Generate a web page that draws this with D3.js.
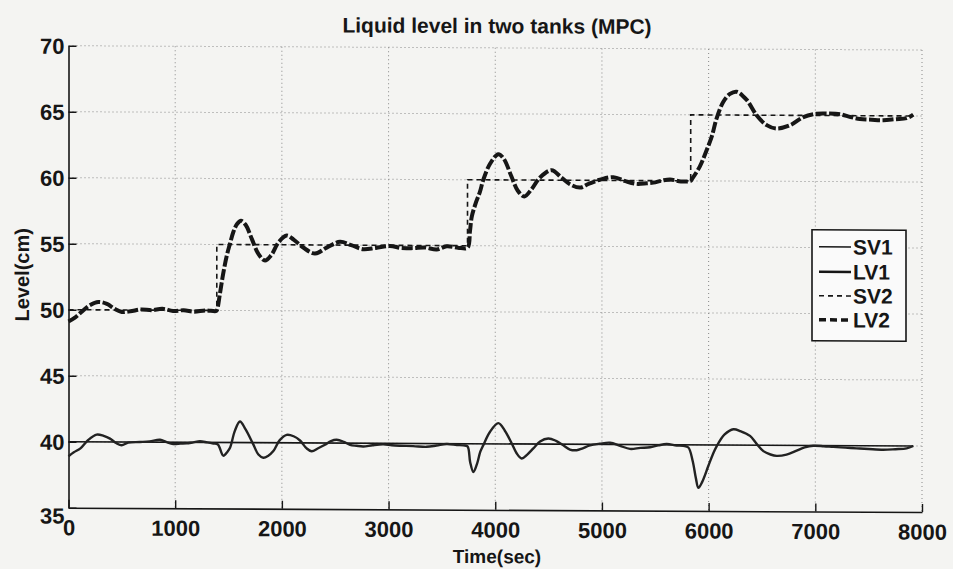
<!DOCTYPE html>
<html><head><meta charset="utf-8">
<script src="https://cdn.jsdelivr.net/npm/d3@7"></script>
<style>
html,body{margin:0;padding:0;background:#f4f4f2;}
svg{display:block;font-family:"Liberation Sans",Arial,Helvetica,sans-serif;font-weight:bold;}
</style></head>
<body><svg id="c" width="953" height="569"></svg>
<script>
// ---- data ----
const xTicks = [0,1000,2000,3000,4000,5000,6000,7000,8000];
const yTicks = [35,40,45,50,55,60,65,70];
const sv1Time = [0, 7918];
const sv1Level = [40, 40];
const sv2Time = [0, 1390, 3740, 5832, 7918];
const sv2Level = [50, 55, 60, 65, 65];
const lv1Time = [0,50,112,180,264,330,389,450,498,560,669,760,858,920,982,1050,1107,1170,1232,1300,1357,1400,1451,1490,1514,1560,1607,1660,1732,1780,1826,1870,1920,1980,2045,2110,2170,2230,2279,2340,2404,2460,2514,2580,2639,2700,2763,2850,2951,3030,3107,3230,3357,3450,3545,3640,3701,3740,3765,3795,3830,3860,3888,3950,4029,4090,4154,4200,4248,4300,4357,4420,4497,4570,4638,4700,4763,4820,4888,4980,5076,5170,5263,5360,5451,5530,5607,5700,5763,5810,5850,5880,5904,5940,5997,6040,6075,6150,6232,6300,6388,6450,6513,6580,6638,6730,6825,6900,6981,7080,7169,7280,7388,7500,7637,7750,7856,7918];
const lv1Level = [38.9,39.2,39.5,40.1,40.55,40.45,40.25,39.9,39.75,39.95,40.0,40.05,40.18,40.0,39.87,39.9,39.92,40.0,40.08,40.0,39.92,39.85,39.0,39.3,39.6,40.9,41.6,41.0,39.87,39.1,38.86,39.0,39.37,40.2,40.6,40.5,40.18,39.6,39.37,39.6,39.87,40.15,40.25,40.1,39.87,39.8,39.75,39.85,39.92,39.85,39.82,39.8,39.75,39.85,39.97,39.9,39.87,39.8,38.6,37.85,38.5,39.4,39.9,40.9,41.57,41.0,40.05,39.3,38.9,39.2,39.67,40.2,40.43,40.25,39.92,39.6,39.55,39.7,39.92,40.05,40.13,39.9,39.67,39.75,39.8,39.95,40.05,39.95,39.92,39.8,38.8,37.5,36.75,37.2,38.4,39.3,39.9,40.8,41.2,41.05,40.7,40.1,39.55,39.3,39.2,39.3,39.6,39.85,39.98,39.95,39.9,39.85,39.8,39.75,39.7,39.75,39.82,40.0];
const lv2Time = [0,60,130,200,280,360,430,500,580,680,780,880,980,1080,1180,1280,1380,1390,1420,1450,1485,1515,1545,1580,1617,1660,1720,1780,1842,1900,1970,2045,2110,2200,2310,2420,2545,2650,2760,2880,3013,3120,3230,3340,3451,3545,3650,3740,3763,3780,3820,3857,3888,3950,4029,4080,4150,4210,4272,4340,4420,4529,4620,4700,4794,4880,4982,5107,5220,5326,5420,5482,5560,5638,5740,5832,5841,5918,5982,6029,6075,6138,6200,6263,6357,6450,6544,6638,6763,6888,7013,7120,7231,7330,7419,7530,7637,7750,7856,7918];
const lv2Level = [49.1,49.4,49.9,50.35,50.6,50.45,50.1,49.85,49.9,50.05,50.0,50.1,49.95,50.0,49.9,50.0,49.95,50.0,51.3,52.8,54.2,55.1,55.95,56.55,56.8,56.5,55.4,54.3,53.8,54.2,55.2,55.7,55.4,54.8,54.35,54.8,55.25,55.0,54.7,54.8,54.95,54.8,54.8,54.85,54.7,54.95,54.85,54.85,56.1,57.2,58.3,59.1,60.0,61.2,61.95,61.6,60.3,59.2,58.75,59.3,60.2,60.75,60.2,59.7,59.45,59.75,60.05,60.25,59.95,59.75,59.8,59.85,60.0,60.1,59.95,60.0,60.1,61.1,62.35,63.35,64.75,66.0,66.6,66.77,66.15,65.0,64.25,64.0,64.25,64.87,65.13,65.15,65.1,64.9,64.75,64.7,64.67,64.75,64.83,65.1];
const legendLabels = ["SV1","LV1","SV2","LV2"];

// ---- chart ----
const svg = d3.select("#c");
const L = 68.5, R = 922, T = 45.7, B = 507.7;
const x = d3.scaleLinear().domain([0,8000]).range([L,R]);
const y = d3.scaleLinear().domain([35,70]).range([B,T]);
const ink = "#161616";

const g = svg.append("g").attr("transform", `translate(${L},0) skewY(0.29) translate(${-L},0)`);

// grid
g.append("g").selectAll("line").data(xTicks.filter(d=>d>0)).join("line")
  .attr("x1",d=>x(d)).attr("x2",d=>x(d)).attr("y1",T).attr("y2",B)
  .attr("stroke","#888").attr("stroke-width",1).attr("stroke-dasharray","1,3");
g.append("g").selectAll("line").data(yTicks.filter(d=>d>35)).join("line")
  .attr("x1",L).attr("x2",R).attr("y1",d=>y(d)).attr("y2",d=>y(d))
  .attr("stroke","#888").attr("stroke-width",1).attr("stroke-dasharray","1,3");

// axes (MATLAB style: inward ticks)
const xAxis = d3.axisBottom(x).tickValues(xTicks).tickFormat(d3.format("d")).tickSizeInner(-8).tickSizeOuter(0).tickPadding(12);
const yAxis = d3.axisLeft(y).tickValues(yTicks).tickFormat(d3.format("d")).tickSizeInner(-8).tickSizeOuter(0).tickPadding(5);
const gx = g.append("g").attr("transform",`translate(0,${B})`).call(xAxis);
const gy = g.append("g").attr("transform",`translate(${L},0)`).call(yAxis);
[gx,gy].forEach(a=>{
  a.select(".domain").attr("stroke",ink).attr("stroke-width",1.6);
  a.selectAll(".tick line").attr("stroke",ink).attr("stroke-width",1.4);
  a.selectAll(".tick text").attr("fill",ink).attr("font-size",22).attr("font-weight","bold")
   .attr("font-family","'Liberation Sans',Arial,sans-serif");
});
gx.selectAll(".tick text").attr("dy","0.71em");
gy.selectAll(".tick text").attr("x",-4).attr("dy",d=>d===35?"0.7em":"0.35em");

// lines
const zip = (a,b)=>a.map((t,i)=>[t,b[i]]);
const straight = d3.line().x(d=>x(d[0])).y(d=>y(d[1]));
const smooth = d3.line().x(d=>x(d[0])).y(d=>y(d[1])).curve(d3.curveCatmullRom.alpha(0.5));
const step = d3.line().x(d=>x(d[0])).y(d=>y(d[1])).curve(d3.curveStepAfter);
g.append("path").datum(zip(sv1Time,sv1Level)).attr("d",straight)
  .attr("fill","none").attr("stroke",ink).attr("stroke-width",1.6);
g.append("path").datum(zip(lv1Time,lv1Level)).attr("d",smooth)
  .attr("fill","none").attr("stroke","#222").attr("stroke-width",2.4).attr("stroke-linejoin","round");
g.append("path").datum(zip(sv2Time,sv2Level)).attr("d",step)
  .attr("fill","none").attr("stroke",ink).attr("stroke-width",1.6).attr("stroke-dasharray","5,4");
g.append("path").datum(zip(lv2Time,lv2Level)).attr("d",smooth)
  .attr("fill","none").attr("stroke",ink).attr("stroke-width",4).attr("stroke-linejoin","round")
  .attr("stroke-dasharray","11,2.5");

// legend
const lg = g.append("g");
lg.append("rect").attr("x",812).attr("y",226).attr("width",94).attr("height",111)
  .attr("fill","#fafafa").attr("stroke",ink).attr("stroke-width",1.6);
const styles = [{w:1.6,d:null},{w:2.4,d:null},{w:1.6,d:"5,4"},{w:3.5,d:"7,4"}];
const rowsY = [243,268,292,316];
legendLabels.forEach((lab,i)=>{
  lg.append("line").attr("x1",819).attr("x2",851).attr("y1",rowsY[i]).attr("y2",rowsY[i])
    .attr("stroke",ink).attr("stroke-width",styles[i].w).attr("stroke-dasharray",styles[i].d);
  lg.append("text").attr("x",853).attr("y",rowsY[i]+7.5).text(lab)
    .attr("font-size",21).attr("fill",ink);
});

// titles
g.append("text").attr("x",497).attr("y",31).attr("text-anchor","middle").attr("font-size",21).attr("fill",ink)
  .text("Liquid level in two tanks (MPC)");
g.append("text").attr("x",497).attr("y",561).attr("text-anchor","middle").attr("font-size",19).attr("fill",ink)
  .text("Time(sec)");
g.append("text").attr("transform","translate(29,275) rotate(-90)").attr("text-anchor","middle").attr("font-size",20).attr("fill",ink)
  .text("Level(cm)");
</script></body></html>
